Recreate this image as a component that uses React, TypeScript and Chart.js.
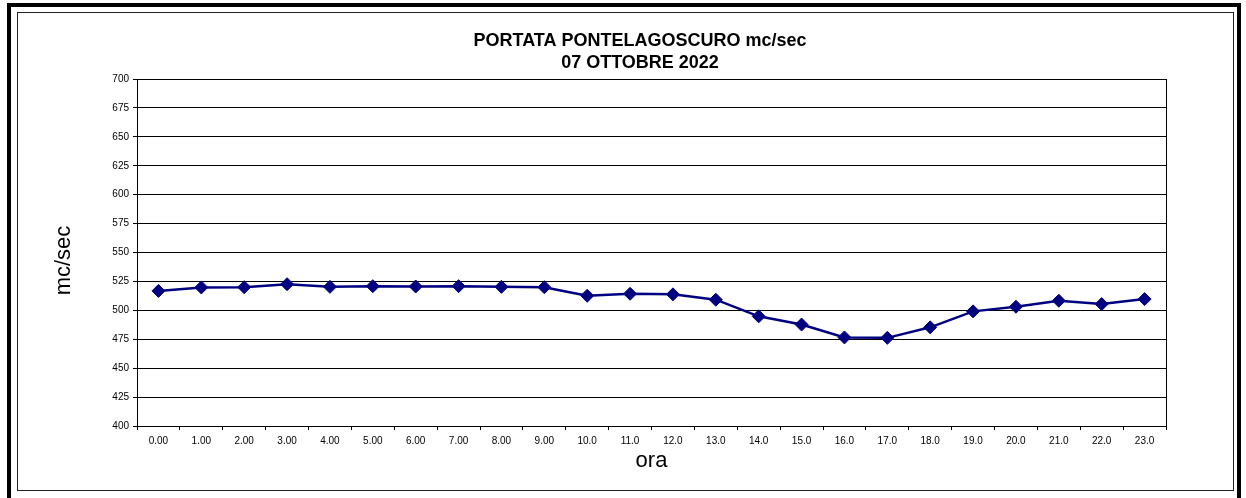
import React, { useEffect, useRef } from "react";
import { Chart, registerables } from "chart.js";

Chart.register(...registerables);

// ---- data ----
const hours: string[] = [
  "0.00", "1.00", "2.00", "3.00", "4.00", "5.00", "6.00", "7.00", "8.00", "9.00",
  "10.0", "11.0", "12.0", "13.0", "14.0", "15.0", "16.0", "17.0", "18.0", "19.0",
  "20.0", "21.0", "22.0", "23.0",
];
const portata: number[] = [
  516.8, 519.8, 520.0, 522.6, 520.3, 520.9, 520.6, 520.9, 520.3, 520.0,
  512.6, 514.3, 513.8, 509.2, 494.8, 487.7, 476.6, 476.2, 485.3, 499.1,
  503.1, 508.3, 505.4, 509.7,
];
const yMin = 400;
const yMax = 700;
const yStep = 25;
const chartTitle: string[] = ["PORTATA PONTELAGOSCURO mc/sec", "07 OTTOBRE 2022"];
const yAxisTitle = "mc/sec";
const xAxisTitle = "ora";

const FONT = "'Liberation Sans', Arial, Helvetica, sans-serif";

export default function App() {
  const ref = useRef<HTMLCanvasElement>(null);

  useEffect(() => {
    if (!ref.current) return;
    const yTitlePlugin = {
      id: "yTitleText",
      afterDraw(chart: any) {
        const { ctx, chartArea } = chart;
        ctx.save();
        ctx.font = `22px ${FONT}`;
        ctx.fillStyle = "#000";
        ctx.textAlign = "center";
        ctx.textBaseline = "middle";
        ctx.translate(23.5, (chartArea.top + chartArea.bottom) / 2 + 8);
        ctx.rotate(-Math.PI / 2);
        ctx.fillText(yAxisTitle, 0, 0);
        ctx.restore();
      },
    };

    const chart = new Chart(ref.current, {
      type: "line",
      data: {
        labels: hours,
        datasets: [
          {
            data: portata,
            borderColor: "#000080",
            backgroundColor: "#000080",
            borderWidth: 2.5,
            pointStyle: "rectRot",
            pointRadius: 6.5,
            pointHoverRadius: 6.5,
            pointBackgroundColor: "#000080",
            pointBorderColor: "#000080",
            pointBorderWidth: 1,
            tension: 0,
            fill: false,
          },
        ],
      },
      options: {
        responsive: false,
        animation: false,
        devicePixelRatio: 1,
        layout: { padding: 0 },
        plugins: {
          legend: { display: false },
          tooltip: { enabled: false },
          title: {
            display: true,
            text: chartTitle,
            color: "#000",
            font: { family: FONT, size: 18, weight: "bold", lineHeight: "22px" },
            padding: { top: 18, bottom: 5 },
          },
        },
        scales: {
          x: {
            type: "category",
            offset: true,
            grid: {
              offset: true,
              drawOnChartArea: false,
              drawTicks: true,
              tickLength: 4,
              color: "#000",
            },
            border: { display: true, color: "#000", width: 1 },
            ticks: {
              color: "#000",
              font: { family: FONT, size: 10 },
              padding: 5,
              maxRotation: 0,
              autoSkip: false,
            },
            title: {
              display: true,
              text: xAxisTitle,
              color: "#000",
              font: { family: FONT, size: 22 },
              padding: { top: 0, bottom: 16 },
            },
            afterFit: (s: any) => {
              s.height = 64;
            },
          },
          y: {
            position: "left",
            min: yMin,
            max: yMax,
            ticks: {
              stepSize: yStep,
              color: "#000",
              font: { family: FONT, size: 10 },
              padding: 4,
            },
            grid: { color: "#000", lineWidth: 1, tickLength: 4, drawTicks: true },
            border: { display: true, color: "#000", width: 1 },
            afterFit: (s: any) => {
              s.width = 97;
            },
          },
          yRight: {
            position: "right",
            min: yMin,
            max: yMax,
            ticks: { display: false },
            grid: { drawOnChartArea: false, drawTicks: false },
            border: { display: true, color: "#000", width: 1 },
            afterFit: (s: any) => {
              s.width = 74;
            },
          },
        },
      },
      plugins: [yTitlePlugin],
    } as any);

    return () => chart.destroy();
  }, []);

  return (
    <div
      style={{
        position: "fixed",
        left: 0,
        top: 0,
        width: 1246,
        height: 498,
        background: "#fff",
        overflow: "hidden",
      }}
    >
      <div
        style={{
          position: "absolute",
          left: 7,
          top: 3,
          width: 1234,
          height: 600,
          boxSizing: "border-box",
          border: "4px solid #000",
        }}
      />
      <div
        style={{
          position: "absolute",
          left: 17,
          top: 12,
          width: 1217,
          height: 479,
          boxSizing: "border-box",
          border: "1px solid #222",
        }}
      />
      <canvas
        ref={ref}
        width={1200}
        height={478}
        style={{ position: "absolute", left: 40, top: 12, width: 1200, height: 478 }}
      />
    </div>
  );
}
